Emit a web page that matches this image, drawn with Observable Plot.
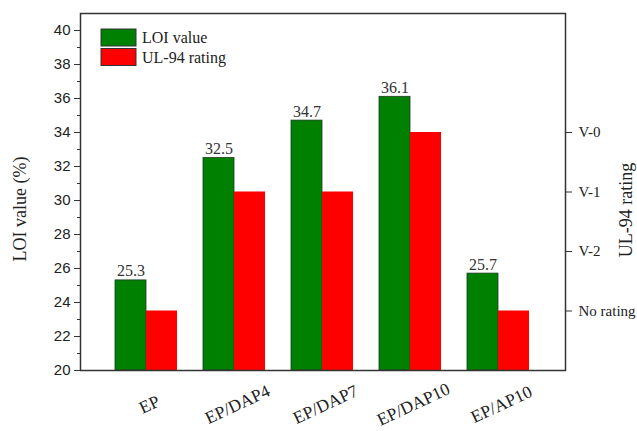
<!DOCTYPE html>
<html>
<head>
<meta charset="utf-8">
<script src="https://cdn.jsdelivr.net/npm/d3@7"></script>
<script src="https://cdn.jsdelivr.net/npm/@observablehq/plot@0.6"></script>
<style>
  html, body { margin: 0; padding: 0; background: #fff; }
  #wrap { position: relative; width: 637px; height: 431px; overflow: hidden; }
  #legend { position: absolute; left: 0; top: 0; pointer-events: none; }
</style>
</head>
<body>
<div id="wrap"></div>
<script>
const categories = ["EP", "EP/DAP4", "EP/DAP7", "EP/DAP10", "EP/AP10"];
const loiValues = [25.3, 32.5, 34.7, 36.1, 25.7];
const ratingLevels = ["No rating", "V-2", "V-1", "V-0"];
const ratingPositions = [23.5, 27, 30.5, 34];
const ulRatings = ["No rating", "V-1", "V-1", "V-0", "No rating"];
const majorTicks = [20, 22, 24, 26, 28, 30, 32, 34, 36, 38, 40];
const minorTicks = [21, 23, 25, 27, 29, 31, 33, 35, 37, 39];
const legendLabels = ["LOI value", "UL-94 rating"];

const rows = categories.map((c, i) => ({
  cat: c,
  loi: loiValues[i],
  ul: ratingPositions[ratingLevels.indexOf(ulRatings[i])]
}));

const green = "#008000";
const red = "#ff0000";
const serif = "Liberation Serif, Times New Roman, serif";
const sans = "Liberation Sans, Arial, sans-serif";

const chart = Plot.plot({
  width: 637,
  height: 431,
  marginLeft: 80,
  marginRight: 72,
  marginTop: 13,
  marginBottom: 61,
  style: { background: "#fff", color: "#222", overflow: "visible" },
  x: { domain: categories, paddingInner: 0.295, paddingOuter: 0.403, axis: null },
  y: { domain: [20, 41], axis: null },
  marks: [
    Plot.barY(rows, { x: "cat", y1: 20, y2: "loi", fill: green, stroke: "#1e3a1e", strokeWidth: 0.8, insetRight: 31 }),
    Plot.barY(rows, { x: "cat", y1: 20, y2: "ul", fill: red, insetLeft: 31 }),
    Plot.text(rows, { x: "cat", y: "loi", text: d => d.loi.toFixed(1), dx: -15.5, dy: -4, lineAnchor: "bottom", fontFamily: serif, fontSize: 16, fill: "#333" }),
    Plot.axisY({ ticks: majorTicks, tickSize: 6, tickPadding: 4, fontFamily: sans, fontSize: 15, label: null, stroke: "#333", fill: "#222" }),
    Plot.axisY({ ticks: minorTicks, tickSize: 3, tickFormat: () => "", label: null, stroke: "#333" }),
    Plot.axisY({ anchor: "right", ticks: ratingPositions, tickFormat: d => ratingLevels[ratingPositions.indexOf(d)], tickSize: 6, tickPadding: 7, fontFamily: serif, fontSize: 15, label: null, stroke: "#333", fill: "#222" }),
    Plot.text(categories, { x: d => d, frameAnchor: "bottom", dx: 3, dy: 34, rotate: -25, textAnchor: "middle", lineAnchor: "middle", fontFamily: serif, fontSize: 17.5, fill: "#222" }),
    Plot.text(["LOI value (%)"], { frameAnchor: "left", dx: -60, dy: 17, rotate: -90, textAnchor: "middle", lineAnchor: "middle", fontFamily: serif, fontSize: 18, fill: "#222" }),
    Plot.text(["UL-94 rating"], { frameAnchor: "right", dx: 61, dy: 18, rotate: -90, textAnchor: "middle", lineAnchor: "middle", fontFamily: serif, fontSize: 18, fill: "#222" }),
    Plot.frame({ stroke: "#333", strokeWidth: 1.5 })
  ]
});

const wrap = document.getElementById("wrap");
wrap.appendChild(chart);

// Legend (inside the plot area, top-left)
const legendColors = [green, red];
const lg = d3.select(wrap).append("svg")
  .attr("id", "legend")
  .attr("width", 637).attr("height", 431);
const items = lg.append("g").attr("transform", "translate(101,29)")
  .selectAll("g").data(legendLabels).join("g")
  .attr("transform", (d, i) => `translate(0,${i * 19.5})`);
items.append("rect")
  .attr("width", 35).attr("height", 17)
  .attr("fill", (d, i) => legendColors[i])
  .attr("stroke", "#333").attr("stroke-width", 1);
items.append("text")
  .attr("x", 41).attr("y", 14)
  .attr("font-family", serif).attr("font-size", 16).attr("fill", "#222")
  .text(d => d);
</script>
</body>
</html>
